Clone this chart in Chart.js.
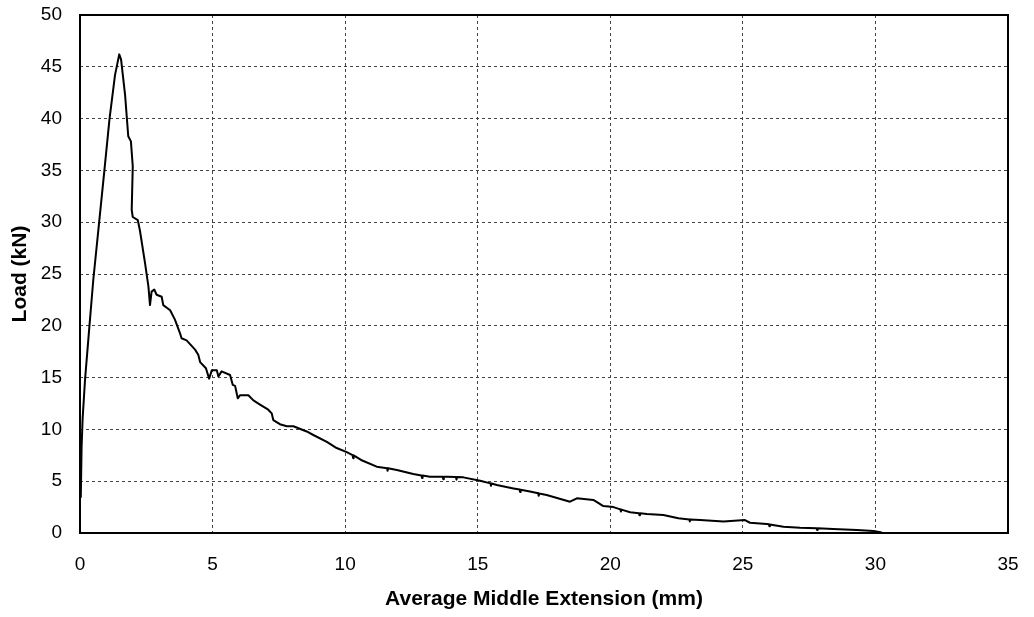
<!DOCTYPE html>
<html>
<head>
<meta charset="utf-8">
<script src="https://cdn.jsdelivr.net/npm/chart.js@4"></script>
<style>
  html, body { margin: 0; padding: 0; background: #fff; }
  #wrap { width: 1034px; height: 617px; }
</style>
</head>
<body>
<div id="wrap"><canvas id="myChart" width="1034" height="617"></canvas></div>
<script>
// average middle extension (mm)
const extension = [0.03, 0.06, 0.10, 0.19, 0.35, 0.50, 0.73, 0.92, 1.11, 1.32, 1.48, 1.55, 1.70, 1.82, 1.92, 1.99, 1.95, 1.99, 2.18, 2.26,
  2.45, 2.58, 2.64, 2.70, 2.80, 2.89, 3.08, 3.14, 3.40, 3.58, 3.77, 3.83, 4.02, 4.34, 4.46, 4.53, 4.75, 4.87, 4.97, 5.16,
  5.22, 5.34, 5.66, 5.76, 5.85, 5.95, 6.04, 6.35, 6.54, 6.79, 7.10, 7.23, 7.29, 7.54, 7.80, 8.05, 8.55, 8.80, 9.31, 9.68,
  10.06, 10.28, 10.30, 10.32, 10.60, 11.19, 11.58, 11.60, 11.62, 11.95, 12.57, 12.88, 12.90, 12.92, 13.20, 13.68, 13.70, 13.72, 13.83,
  14.18, 14.20, 14.22, 14.46, 15.09, 15.48, 15.50, 15.52, 15.72, 16.35, 16.58, 16.60, 16.62, 16.97, 17.28, 17.30, 17.32, 17.60,
  18.48, 18.74, 19.36, 19.74, 20.12, 20.38, 20.40, 20.42, 20.75, 21.08, 21.10, 21.12, 21.38, 22.00, 22.57, 22.98, 23.00, 23.02,
  23.39, 24.27, 25.08, 25.27, 25.90, 25.98, 26.00, 26.02, 26.53, 27.16, 27.78, 27.80, 27.82, 28.40, 29.30, 29.93, 30.24];
// load (kN)
const load = [3.4, 8.3, 11.1, 14.8, 19.8, 24.4, 30.2, 35.0, 39.9, 44.2, 46.2, 45.7, 42.3, 38.3, 37.8, 35.4, 31.2, 30.5, 30.2, 29.2,
  26.1, 23.8, 22.0, 23.3, 23.5, 23.0, 22.8, 22.0, 21.5, 20.6, 19.3, 18.8, 18.6, 17.7, 17.2, 16.5, 15.9, 14.9, 15.7, 15.7,
  15.1, 15.6, 15.25, 14.3, 14.2, 13.0, 13.3, 13.3, 12.8, 12.4, 11.9, 11.55, 10.9, 10.5, 10.3, 10.3, 9.8, 9.46, 8.8, 8.2,
  7.8, 7.52, 7.22, 7.5, 7.05, 6.4, 6.25, 6.0, 6.24, 6.08, 5.7, 5.56, 5.3, 5.55, 5.43, 5.43, 5.2, 5.43, 5.43,
  5.4, 5.15, 5.4, 5.37, 5.05, 4.79, 4.55, 4.78, 4.63, 4.3, 4.19, 3.95, 4.18, 4.0, 3.83, 3.6, 3.82, 3.67,
  3.02, 3.35, 3.19, 2.6, 2.5, 2.28, 2.08, 2.26, 2.0, 1.91, 1.72, 1.9, 1.83, 1.74, 1.42, 1.31, 1.12, 1.3,
  1.25, 1.1, 1.25, 0.99, 0.87, 0.84, 0.66, 0.83, 0.61, 0.51, 0.45, 0.3, 0.45, 0.39, 0.29, 0.19, 0.05];

const xTitle = 'Average Middle Extension (mm)';
const yTitle = 'Load (kN)';

const points = extension.map((x, i) => ({ x: x, y: load[i] }));

// box around the plot area
const frame = {
  id: 'frame',
  afterDatasetsDraw(chart) {
    const a = chart.chartArea;
    const c = chart.ctx;
    c.save();
    c.strokeStyle = '#000';
    c.lineWidth = 2;
    c.strokeRect(a.left, a.top, a.right - a.left, a.bottom - a.top);
    c.restore();
  }
};

Chart.defaults.font.family = '"Liberation Sans", Arial, sans-serif';
Chart.defaults.font.size = 19;
Chart.defaults.color = '#000';

new Chart(document.getElementById('myChart'), {
  type: 'scatter',
  data: {
    datasets: [{
      data: points,
      showLine: true,
      borderColor: '#000',
      borderWidth: 2,
      borderJoinStyle: 'round',
      pointRadius: 0,
      tension: 0
    }]
  },
  options: {
    responsive: false,
    animation: false,
    layout: { padding: { left: 0, right: 26, top: 15, bottom: 0 } },
    plugins: { legend: { display: false }, tooltip: { enabled: false } },
    scales: {
      x: {
        type: 'linear',
        min: 0, max: 35,
        ticks: { stepSize: 5, padding: 20 },
        grid: { color: '#444', drawTicks: false },
        border: { display: false, dash: [3, 3] },
        title: { display: true, text: xTitle, font: { weight: 'bold', size: 21 }, padding: { top: 0, bottom: 5 } },
        afterFit(s) { s.height = 84; s.paddingLeft = 0; s.paddingRight = 0; }
      },
      y: {
        min: 0, max: 50,
        ticks: { stepSize: 5, padding: 18 },
        grid: { color: '#444', drawTicks: false },
        border: { display: false, dash: [3, 3] },
        title: { display: true, text: yTitle, font: { weight: 'bold', size: 21 }, padding: { top: 8, bottom: 0 } },
        afterFit(s) { s.width = 80; s.paddingTop = 0; s.paddingBottom = 0; }
      }
    }
  },
  plugins: [frame]
});
</script>
</body>
</html>
